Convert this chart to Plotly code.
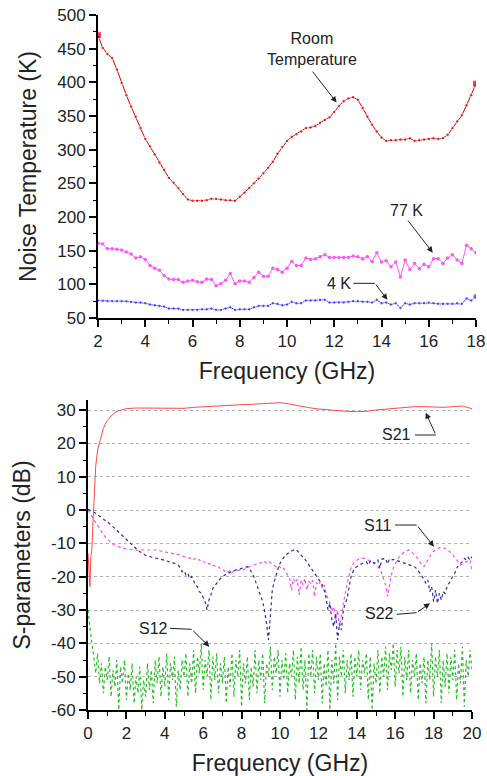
import plotly.graph_objects as go

# ---- top panel: noise temperature, 2-18 GHz in 0.2 GHz steps ----
freq_nt = [round(2 + 0.2 * i, 1) for i in range(81)]

room_temp = [470, 451, 442, 436, 419, 399, 381, 364, 349, 332,
             316, 305, 293, 281, 270, 258, 251, 243, 234, 226,
             224, 224, 224, 225, 227, 227, 226, 225, 225, 224,
             230, 236, 243, 250, 257, 265, 273, 282, 294, 304,
             313, 319, 323, 327, 332, 333, 335, 340, 344, 348,
             356, 365, 372, 376, 378, 374, 362, 349, 337, 327,
             318, 313, 314, 314, 315, 315, 317, 313, 314, 315,
             316, 317, 316, 317, 322, 332, 342, 351, 366, 381,
             398]

temp_77k = [161, 160, 153, 153, 152, 151, 148, 145, 139, 141,
            137, 128, 124, 121, 113, 108, 107, 107, 103, 105,
            106, 104, 103, 108, 107, 98, 101, 106, 116, 101,
            105, 105, 103, 110, 118, 112, 112, 124, 122, 118,
            124, 134, 128, 128, 139, 137, 138, 141, 144, 140,
            140, 140, 140, 140, 142, 141, 138, 141, 134, 147,
            133, 135, 126, 133, 111, 136, 122, 131, 123, 130,
            126, 138, 138, 131, 139, 144, 136, 131, 158, 153,
            147]

temp_4k = [76, 75.5, 75, 75, 75, 75, 75, 74, 73, 73,
           72, 70, 69, 68, 67, 64, 64, 64, 62, 62,
           62, 62, 63, 63, 64, 62, 62, 64, 66, 62,
           63, 63, 63, 66, 68, 68, 68, 72, 71, 69,
           70, 74, 72, 72, 76, 76, 76, 77, 77, 73,
           73, 73, 73, 74, 75, 75, 74, 74, 73, 77,
           72, 73, 70, 72, 65, 72, 70, 72, 72, 72,
           73, 72, 71, 71, 71, 71, 72, 71, 79, 76,
           82]

nt_xticks = [2, 4, 6, 8, 10, 12, 14, 16, 18]
nt_yticks = [50, 100, 150, 200, 250, 300, 350, 400, 450, 500]

# ---- bottom panel: S-parameters ----
freq_s21 = [0.0, 0.05, 0.1, 0.15, 0.2, 0.25, 0.3, 0.35, 0.4, 0.5,
            0.6, 0.7, 0.8, 0.9, 1.0, 1.2, 1.4, 1.6, 1.8, 2.0,
            2.5, 3.0, 3.5, 4.0, 4.5, 5.0, 5.5, 6.0, 6.5, 7.0,
            7.5, 8.0, 8.5, 9.0, 9.5, 10.0, 10.5, 11.0, 11.5, 12.0,
            12.5, 13.0, 13.5, 14.0, 14.5, 15.0, 15.5, 16.0, 16.5, 17.0,
            17.5, 18.0, 18.5, 19.0, 19.5, 20.0]
s21 = [-13, -18, -23, -14, -12, -5, 3, 9, 13, 18,
       20.5, 22.5, 24.5, 25.8, 26.8, 28.2, 29.2, 29.8, 30.2, 30.4,
       30.6, 30.6, 30.5, 30.4, 30.4, 30.5, 30.8, 31.0, 31.2, 31.4,
       31.5, 31.6, 31.7, 31.8, 32.0, 32.2, 31.8, 31.2, 30.7, 30.3,
       30.0, 29.8, 29.6, 29.5, 29.6, 30.0, 30.3, 30.5, 30.8, 31.0,
       31.0, 30.8, 30.8, 31.0, 31.2, 30.4]

freq_s = [round(0.1 * i, 1) for i in range(201)]

s11 = [0.0, -0.8, -1.8, -2.8, -3.8, -4.8, -5.8, -6.6, -7.4, -8.1,
       -8.7, -9.3, -9.8, -10.2, -10.6, -10.9, -11.1, -11.3, -11.5, -11.6,
       -11.7, -11.8, -11.9, -12.0, -12.0, -12.1, -12.1, -12.0, -12.0, -11.9,
       -11.8, -11.8, -11.9, -11.9, -12.0, -12.0, -12.1, -12.2, -12.3, -12.4,
       -12.5, -12.6, -12.7, -12.8, -12.9, -13.1, -13.2, -13.4, -13.6, -13.8,
       -14.0, -14.0, -14.3, -14.5, -14.2, -14.8, -14.6, -15.2, -14.9, -15.5,
       -15.4, -15.8, -15.6, -16.2, -16.0, -16.6, -16.8, -17.2, -17.0, -17.6,
       -17.8, -18.3, -18.0, -18.6, -18.2, -18.8, -18.3, -18.5, -18.2, -18.0,
       -18.2, -17.8, -17.6, -17.3, -17.0, -16.8, -16.5, -16.4, -16.2, -16.0,
       -15.8, -16.2, -15.6, -15.9, -15.4, -15.8, -16.2, -16.5, -17.0, -16.6,
       -17.2, -17.8, -17.5, -18.5, -19.5, -20.5, -24.0, -20.5, -21.8, -20.8,
       -25.5, -21.0, -22.5, -20.5, -24.0, -21.5, -22.0, -21.0, -26.0, -21.8,
       -22.5, -21.5, -23.5, -22.5, -25.0, -26.5, -28.0, -30.5, -29.0, -33.0,
       -30.0, -35.0, -31.0, -28.0, -25.0, -22.0, -19.5, -17.5, -16.2, -15.5,
       -15.0, -14.7, -14.5, -14.4, -14.5, -14.7, -15.0, -15.2, -15.5, -15.8,
       -16.3, -17.0, -17.8, -19.0, -20.5, -22.5, -26.0, -22.0, -19.5, -17.5,
       -16.0, -15.0, -14.2, -13.5, -13.0, -12.6, -12.2, -12.0, -12.3, -12.8,
       -13.3, -14.0, -14.8, -15.8, -16.5, -17.0, -16.0, -14.8, -13.8, -13.0,
       -12.4, -12.0, -11.6, -11.3, -11.2, -11.3, -11.5, -11.8, -12.2, -12.8,
       -13.5, -14.3, -15.2, -16.0, -16.5, -16.2, -15.8, -15.5, -15.3, -15.0,
       -18.0]

s22 = [0.2, 0.0, -0.3, -0.6, -1.0, -1.4, -1.8, -2.2, -2.7, -3.1,
       -3.6, -4.0, -4.5, -5.0, -5.5, -6.0, -6.5, -7.0, -7.6, -8.2,
       -8.8, -9.4, -10.0, -10.6, -11.1, -11.6, -12.1, -12.5, -12.9, -13.3,
       -13.6, -13.8, -14.0, -14.2, -14.3, -14.4, -14.5, -14.6, -14.8, -15.0,
       -15.1, -15.3, -15.4, -15.6, -15.8, -16.0, -16.2, -16.6, -17.2, -18.5,
       -18.2, -19.5, -19.0, -20.6, -20.0, -21.5, -22.5, -23.0, -24.5, -25.0,
       -26.5, -27.5, -30.0, -27.0, -25.5, -23.5, -22.8, -22.0, -21.2, -20.5,
       -20.0, -19.5, -19.2, -18.9, -18.6, -18.4, -18.2, -18.0, -17.8, -17.6,
       -17.4, -17.2, -17.0, -17.0, -17.5, -18.5, -19.5, -21.0, -22.5, -24.0,
       -25.5, -27.5, -30.5, -34.0, -39.0, -30.0, -24.0, -21.5, -19.0, -17.5,
       -16.0, -15.0, -14.2, -13.5, -13.0, -12.6, -12.3, -12.0, -11.8, -12.2,
       -12.8, -13.4, -14.0, -14.8, -15.6, -16.4, -17.2, -18.0, -18.8, -19.6,
       -20.5, -21.5, -22.5, -24.0, -26.5, -30.0, -28.0, -33.0, -35.0, -31.0,
       -39.0, -34.0, -36.0, -30.0, -28.0, -26.5, -23.0, -20.0, -18.5, -17.5,
       -17.0, -16.6, -16.3, -16.0, -15.8, -15.6, -16.5, -15.4, -15.2, -16.0,
       -15.5, -15.0, -17.5, -14.8, -14.6, -14.5, -16.2, -14.7, -15.0, -14.8,
       -15.0, -15.2, -15.5, -15.6, -15.8, -16.0, -16.2, -16.4, -16.6, -16.8,
       -17.0, -17.5, -18.2, -19.0, -20.0, -20.8, -22.0, -21.0, -24.5, -23.0,
       -27.5, -24.0, -28.0, -25.0, -27.0, -24.5, -25.0, -23.0, -22.0, -21.0,
       -20.0, -19.0, -17.5, -16.5, -16.0, -15.5, -14.5, -15.0, -14.2, -15.0,
       -14.0]

s12 = [-30, -36, -40, -44, -49, -43, -52, -46, -55, -47,
       -51, -44, -56, -48, -53, -45, -60, -47, -52, -45,
       -57, -49, -54, -46, -58, -50, -55, -47, -60, -51,
       -56, -46, -54, -48, -58, -45, -52, -44, -56, -47,
       -53, -43, -57, -46, -51, -44, -59, -48, -54, -45,
       -50, -43, -56, -46, -52, -42, -55, -44, -49, -40,
       -54, -45, -50, -42, -57, -44, -51, -43, -55, -46,
       -52, -44, -58, -47, -53, -43, -56, -45, -50, -42,
       -59, -46, -52, -44, -57, -47, -53, -42, -55, -45,
       -51, -43, -58, -46, -50, -41, -54, -44, -49, -42,
       -56, -45, -51, -43, -55, -46, -50, -42, -57, -44,
       -52, -41, -54, -45, -60, -43, -50, -42, -55, -44,
       -51, -43, -58, -46, -53, -42, -60, -45, -52, -40,
       -57, -44, -50, -42, -55, -45, -51, -43, -56, -44,
       -50, -42, -54, -45, -49, -43, -57, -44, -60, -46,
       -52, -42, -55, -44, -50, -41, -54, -43, -48, -40,
       -53, -42, -49, -41, -56, -44, -51, -42, -55, -45,
       -50, -43, -57, -46, -52, -44, -58, -45, -51, -40,
       -56, -44, -50, -42, -58, -45, -53, -43, -55, -44,
       -51, -42, -57, -46, -52, -41, -59, -45, -50, -42,
       -48]

sp_xticks = [0, 2, 4, 6, 8, 10, 12, 14, 16, 18, 20]
sp_yticks = [-60, -50, -40, -30, -20, -10, 0, 10, 20, 30]
sp_yticktext = ["-60", "-50", "-40", "-30", "-20", "-10", "0", "10", "20", "30"]

FONT = "Liberation Sans, Arial, sans-serif"
INK = "#222222"
W, H = 487, 776

fig = go.Figure()

# top panel traces
end_sq = ["square"] + ["circle"] * (len(freq_nt) - 2) + ["square"]
end_sz = [7] + [3.5] * (len(freq_nt) - 2) + [7]
fig.add_trace(go.Scatter(x=freq_nt, y=room_temp, mode="lines+markers",
                         line=dict(color="#d80000", width=1),
                         marker=dict(color="#d80000", size=end_sz, symbol=end_sq),
                         xaxis="x", yaxis="y"))
fig.add_trace(go.Scatter(x=freq_nt, y=temp_77k, mode="lines+markers",
                         line=dict(color="#ff55ff", width=1),
                         marker=dict(color="#ff55ff", size=3.5),
                         xaxis="x", yaxis="y"))
blue_sz = [3.5] * (len(freq_nt) - 1) + [6]
fig.add_trace(go.Scatter(x=freq_nt, y=temp_4k, mode="lines+markers",
                         line=dict(color="#3030ff", width=1),
                         marker=dict(color="#3030ff", size=blue_sz),
                         xaxis="x", yaxis="y"))

# bottom panel traces
fig.add_trace(go.Scatter(x=freq_s, y=s12, mode="lines",
                         line=dict(color="#22c022", width=1.2, dash="dot"),
                         xaxis="x2", yaxis="y2"))
fig.add_trace(go.Scatter(x=freq_s, y=s11, mode="lines",
                         line=dict(color="#ff44ff", width=1.2, dash="dot"),
                         xaxis="x2", yaxis="y2"))
fig.add_trace(go.Scatter(x=freq_s, y=s22, mode="lines",
                         line=dict(color="#2a2aa8", width=1.2, dash="dot"),
                         xaxis="x2", yaxis="y2"))
fig.add_trace(go.Scatter(x=freq_s21, y=s21, mode="lines",
                         line=dict(color="#ff4848", width=1),
                         xaxis="x2", yaxis="y2"))

axis_common = dict(showline=True, linecolor="black", linewidth=2,
                   ticks="outside", ticklen=7, tickwidth=1.5, tickcolor="black",
                   tickfont=dict(family=FONT, size=17, color=INK),
                   zeroline=False, showgrid=False, mirror=False, automargin=False)
minor_x = dict(ticks="outside", ticklen=3.5, tickwidth=1.2, tickcolor="black", dtick=1, tick0=0)

fig.update_layout(
    template="none",
    width=W, height=H,
    margin=dict(l=0, r=0, t=0, b=0),
    paper_bgcolor="white", plot_bgcolor="white",
    showlegend=False,
    font=dict(family=FONT, color=INK),
    xaxis=dict(axis_common, domain=[98 / W, 476 / W], anchor="y",
               range=[2, 18], tickvals=nt_xticks, minor=minor_x,
               title=dict(text="Frequency (GHz)", font=dict(size=23, color=INK), standoff=12)),
    yaxis=dict(axis_common, domain=[1 - 318 / H, 1 - 15 / H], anchor="x",
               range=[50, 500], tickvals=nt_yticks,
               minor=dict(ticks="outside", ticklen=3.5, tickwidth=1.2, tickcolor="black", dtick=25, tick0=0),
               title=dict(text="Noise Temperature (K)", font=dict(size=23, color=INK), standoff=14)),
    xaxis2=dict(axis_common, domain=[88 / W, 472 / W], anchor="y2",
                range=[0, 20], tickvals=sp_xticks, minor=minor_x,
                title=dict(text="Frequency (GHz)", font=dict(size=23, color=INK), standoff=12)),
    yaxis2=dict(axis_common, domain=[1 - 710 / H, 1 - 400 / H], anchor="x2",
                range=[-60, 33], tickvals=sp_yticks, ticktext=sp_yticktext,
                showgrid=True, gridcolor="#b0b0b0", griddash="dot", gridwidth=1,
                minor=dict(ticks="outside", ticklen=3.5, tickwidth=1.2, tickcolor="black", dtick=5, tick0=0),
                title=dict(text="S-parameters (dB)", font=dict(size=23, color=INK), standoff=14)),
)


def label(text, x, y, xr, yr):
    fig.add_annotation(text=text, x=x, y=y, xref=xr, yref=yr, showarrow=False,
                       font=dict(family=FONT, size=16, color=INK))


def arrow(x0, y0, x1, y1, xr, yr):
    fig.add_annotation(text="", x=x1, y=y1, ax=x0, ay=y0, xref=xr, yref=yr,
                       axref=xr, ayref=yr, showarrow=True, arrowhead=2,
                       arrowsize=1.2, arrowwidth=1, arrowcolor=INK, standoff=0)


def seg(x0, y0, x1, y1, xr, yr):
    fig.add_shape(type="line", x0=x0, y0=y0, x1=x1, y1=y1, xref=xr, yref=yr,
                  line=dict(color=INK, width=1))


# top annotations
label("Room<br>Temperature", 11.04, 449, "x", "y")
arrow(11.04, 418, 12.1, 370, "x", "y")
label("77 K", 15.07, 210, "x", "y")
arrow(15.07, 197, 16.17, 147, "x", "y")
label("4 K", 12.22, 101.5, "x", "y")
seg(12.81, 101.5, 13.72, 101.5, "x", "y")
arrow(13.72, 101.5, 14.25, 77, "x", "y")

# bottom annotations
label("S21", 16.08, 22.5, "x2", "y2")
seg(17.03, 22.5, 18.12, 22.5, "x2", "y2")
arrow(18.12, 22.5, 17.59, 29.2, "x2", "y2")
label("S11", 15.06, -4.5, "x2", "y2")
seg(15.99, -4.5, 17.12, -4.5, "x2", "y2")
arrow(17.12, -4.5, 18.02, -11.0, "x2", "y2")
label("S22", 15.18, -31, "x2", "y2")
seg(16.08, -31.3, 17.12, -30.8, "x2", "y2")
arrow(17.12, -30.8, 17.81, -28, "x2", "y2")
label("S12", 3.39, -35.5, "x2", "y2")
seg(4.27, -35.5, 5.40, -35.8, "x2", "y2")
arrow(5.40, -35.8, 6.32, -41, "x2", "y2")

# the page body has a default 8px margin; drop it so the figure fills the window
fig.write_html("out.html", config={"displayModeBar": False},
               post_script="document.body.style.margin='0';")
